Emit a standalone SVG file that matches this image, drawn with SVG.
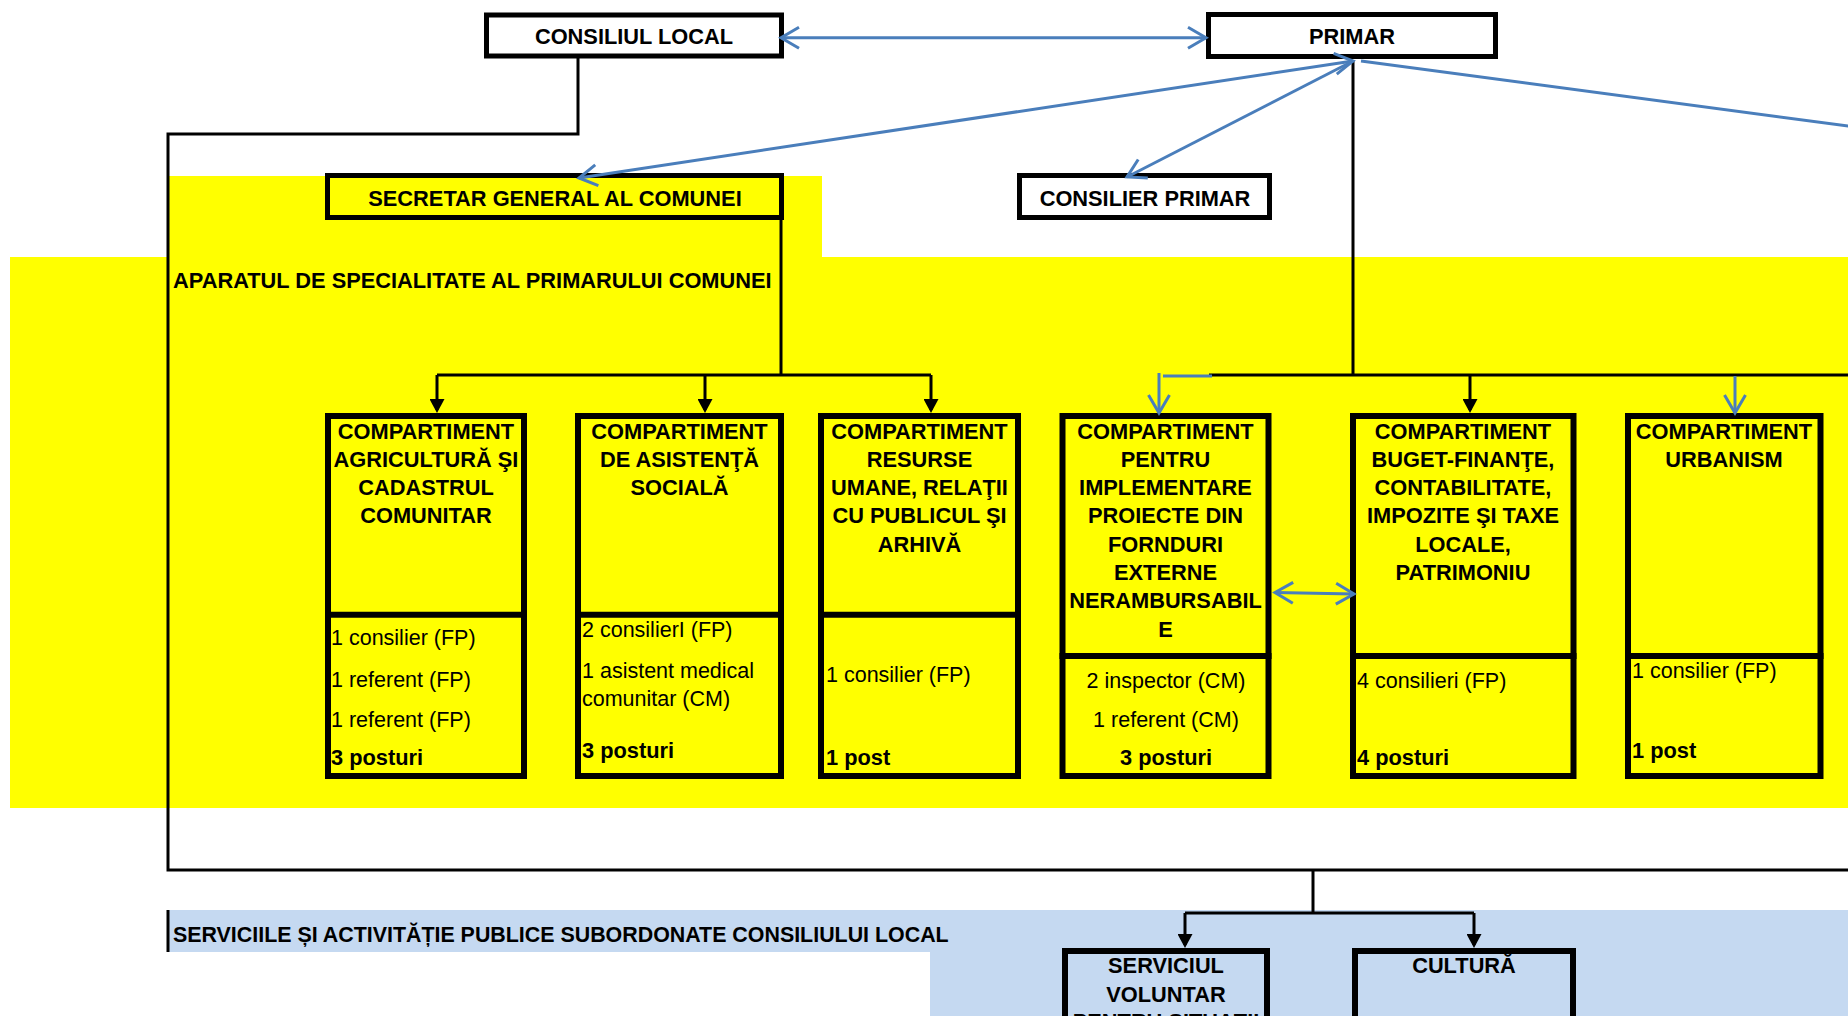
<svg xmlns="http://www.w3.org/2000/svg" width="1848" height="1016" viewBox="0 0 1848 1016">
<defs>
<style>
text{font-family:"Liberation Sans",Arial,sans-serif;font-size:21.5px;fill:#000}
.b{font-weight:bold;font-size:21.8px}
.c{text-anchor:middle}
.box{stroke:#000;stroke-width:5}
.cbox{fill:#ffff00;stroke:#000;stroke-width:6}
.sbox{fill:#c5d9f1;stroke:#000;stroke-width:6}
.div{stroke:#000;stroke-width:6}
.blk{fill:none;stroke:#000;stroke-width:3}
.blu{fill:none;stroke:#4a7ebb;stroke-width:3}
</style>
<marker id="tri" viewBox="0 0 14 15" refX="11" refY="7.5" markerWidth="14" markerHeight="15" markerUnits="userSpaceOnUse" orient="auto">
<path d="M0,0 L14,7.5 L0,15 z" fill="#000"/>
</marker>
<marker id="chev" viewBox="-22 -13 26 26" refX="0" refY="0" markerWidth="26" markerHeight="26" markerUnits="userSpaceOnUse" orient="auto-start-reverse">
<path d="M-18,-10.5 L0,0 L-18,10.5" fill="none" stroke="#4a7ebb" stroke-width="3"/>
</marker>
</defs>

<g id="backgrounds">
<rect x="168" y="176" width="654" height="81" fill="#ffff00"/>
<rect x="10" y="257" width="1838" height="551" fill="#ffff00"/>
<rect x="168" y="910" width="1680" height="42" fill="#c5d9f1"/>
<rect x="930" y="952" width="918" height="64" fill="#c5d9f1"/>
<text class="b" x="173" y="288">APARATUL DE SPECIALITATE AL PRIMARULUI COMUNEI</text>
<text class="b" x="173" y="942" style="font-size:21.4px">SERVICIILE ȘI ACTIVITĂȚIE PUBLICE SUBORDONATE CONSILIULUI LOCAL</text>
</g>

<g id="consiliul-local">
<rect class="box" x="486.5" y="15" width="295" height="41" fill="#fff"/>
<text class="b c" x="634" y="44">CONSILIUL LOCAL</text>
</g>
<g id="primar">
<rect class="box" x="1208.5" y="14.5" width="287" height="42" fill="#fff"/>
<text class="b c" x="1352" y="44">PRIMAR</text>
</g>
<g id="secretar-general">
<rect class="box" x="327.5" y="175.5" width="454" height="42" fill="#ffff00"/>
<text class="b c" x="555" y="206">SECRETAR GENERAL AL COMUNEI</text>
</g>
<g id="consilier-primar">
<rect class="box" x="1019.5" y="175.5" width="250" height="42" fill="#fff"/>
<text class="b c" x="1145" y="206">CONSILIER PRIMAR</text>
</g>

<g id="comp-agricultura">
<rect class="cbox" x="328" y="416" width="196" height="360"/>
<line class="div" x1="325" y1="614.8" x2="527" y2="614.8"/>
<text class="b c" x="426" y="438.5">COMPARTIMENT</text>
<text class="b c" x="426" y="466.8">AGRICULTURĂ ŞI</text>
<text class="b c" x="426" y="495.1">CADASTRUL</text>
<text class="b c" x="426" y="523.4">COMUNITAR</text>
<text x="331" y="645">1 consilier (FP)</text>
<text x="331" y="687">1 referent (FP)</text>
<text x="331" y="727">1 referent (FP)</text>
<text class="b" x="331" y="765">3 posturi</text>
</g>
<g id="comp-asistenta">
<rect class="cbox" x="578" y="416" width="203" height="360"/>
<line class="div" x1="575" y1="614.8" x2="784" y2="614.8"/>
<text class="b c" x="679.5" y="438.5">COMPARTIMENT</text>
<text class="b c" x="679.5" y="466.8">DE ASISTENŢĂ</text>
<text class="b c" x="679.5" y="495.1">SOCIALĂ</text>
<text x="582" y="636.7">2 consilierI (FP)</text>
<text x="582" y="678.3">1 asistent medical</text>
<text x="582" y="705.5">comunitar (CM)</text>
<text class="b" x="582" y="757.7">3 posturi</text>
</g>
<g id="comp-resurse-umane">
<rect class="cbox" x="821" y="416" width="197" height="360"/>
<line class="div" x1="818" y1="614.8" x2="1021" y2="614.8"/>
<text class="b c" x="919.5" y="438.5">COMPARTIMENT</text>
<text class="b c" x="919.5" y="466.8">RESURSE</text>
<text class="b c" x="919.5" y="495.1">UMANE, RELAŢII</text>
<text class="b c" x="919.5" y="523.4">CU PUBLICUL ŞI</text>
<text class="b c" x="919.5" y="551.7">ARHIVĂ</text>
<text x="826" y="682.3">1 consilier (FP)</text>
<text class="b" x="826" y="765">1 post</text>
</g>
<g id="comp-proiecte">
<rect class="cbox" x="1062.5" y="416" width="206" height="360"/>
<line class="div" x1="1059.5" y1="656" x2="1271.5" y2="656"/>
<text class="b c" x="1165.5" y="438.5">COMPARTIMENT</text>
<text class="b c" x="1165.5" y="466.8">PENTRU</text>
<text class="b c" x="1165.5" y="495.1">IMPLEMENTARE</text>
<text class="b c" x="1165.5" y="523.4">PROIECTE DIN</text>
<text class="b c" x="1165.5" y="551.7">FORNDURI</text>
<text class="b c" x="1165.5" y="580">EXTERNE</text>
<text class="b c" x="1165.5" y="608.3">NERAMBURSABIL</text>
<text class="b c" x="1165.5" y="636.6">E</text>
<text class="c" x="1166" y="688">2 inspector (CM)</text>
<text class="c" x="1166" y="727">1 referent (CM)</text>
<text class="b c" x="1166" y="765">3 posturi</text>
</g>
<g id="comp-buget">
<rect class="cbox" x="1353" y="416" width="220.5" height="360"/>
<line class="div" x1="1350" y1="656" x2="1576.5" y2="656"/>
<text class="b c" x="1463" y="438.5">COMPARTIMENT</text>
<text class="b c" x="1463" y="466.8">BUGET-FINANŢE,</text>
<text class="b c" x="1463" y="495.1">CONTABILITATE,</text>
<text class="b c" x="1463" y="523.4">IMPOZITE ŞI TAXE</text>
<text class="b c" x="1463" y="551.7">LOCALE,</text>
<text class="b c" x="1463" y="580">PATRIMONIU</text>
<text x="1357" y="687.5">4 consilieri (FP)</text>
<text class="b" x="1357" y="765">4 posturi</text>
</g>
<g id="comp-urbanism">
<rect class="cbox" x="1628" y="416" width="192.5" height="360"/>
<line class="div" x1="1625" y1="656" x2="1823.5" y2="656"/>
<text class="b c" x="1724" y="438.5">COMPARTIMENT</text>
<text class="b c" x="1724" y="466.8">URBANISM</text>
<text x="1632" y="678">1 consilier (FP)</text>
<text class="b" x="1632" y="758">1 post</text>
</g>

<g id="serviciul-voluntar">
<rect class="sbox" x="1065" y="951" width="202" height="100"/>
<text class="b c" x="1166" y="973.3">SERVICIUL</text>
<text class="b c" x="1166" y="1001.7">VOLUNTAR</text>
<text class="b c" x="1166" y="1028.5">PENTRU SITUAȚII</text>
</g>
<g id="cultura">
<rect class="sbox" x="1355" y="951" width="218" height="100"/>
<text class="b c" x="1464" y="973.3">CULTURĂ</text>
</g>

<g id="connectors">
<path class="blu" d="M781,37.7 L1206,37.7" marker-start="url(#chev)" marker-end="url(#chev)"/>
<path class="blk" d="M578,58 V134 H168 V870 H1848"/>
<path class="blk" d="M168,910 V952"/>
<path class="blk" d="M1313,870 V913"/>
<path class="blk" d="M1185,913 H1474"/>
<path class="blk" d="M1185,913 V945" marker-end="url(#tri)"/>
<path class="blk" d="M1474,913 V945" marker-end="url(#tri)"/>
<path class="blk" d="M781,220 V375"/>
<path class="blk" d="M437,375 H931"/>
<path class="blk" d="M437,375 V410" marker-end="url(#tri)"/>
<path class="blk" d="M705,375 V410" marker-end="url(#tri)"/>
<path class="blk" d="M931,375 V410" marker-end="url(#tri)"/>
<path class="blk" d="M1353,61 V375"/>
<path class="blk" d="M1209,375 H1848"/>
<path class="blk" d="M1470,375 V410" marker-end="url(#tri)"/>
<path class="blu" d="M1212,376 H1163"/>
<path class="blu" d="M1159,373 V413" marker-end="url(#chev)"/>
<path class="blu" d="M1735,376 V413" marker-end="url(#chev)"/>
<path class="blu" d="M1353,61 L579,178" marker-start="url(#chev)" marker-end="url(#chev)"/>
<path class="blu" d="M1353,61 L1127,177" marker-end="url(#chev)"/>
<path class="blu" d="M1361,61 L1900,133"/>
<path class="blu" d="M1275,592.5 L1354,594" marker-start="url(#chev)" marker-end="url(#chev)"/>
</g>
</svg>
